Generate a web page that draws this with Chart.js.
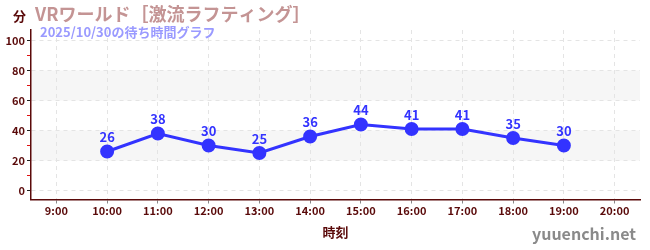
<!DOCTYPE html>
<html>
<head>
<meta charset="utf-8">
<script src="https://cdn.jsdelivr.net/npm/chart.js@4"></script>
<style>
  body { margin: 0; background: #fff; }
</style>
</head>
<body>
<canvas id="c" width="650" height="250"></canvas>
<script>
// データ
const title = "VRワールド［激流ラフティング］";
const subtitle = "2025/10/30の待ち時間グラフ";
const hours = [10, 11, 12, 13, 14, 15, 16, 17, 18, 19];
const waits = [26, 38, 30, 25, 36, 44, 41, 41, 35, 30];
const xTicks = [9, 10, 11, 12, 13, 14, 15, 16, 17, 18, 19, 20];
const yTicks = [0, 10, 20, 30, 40, 50, 60, 70, 80, 90, 100];
const bands = [[20, 40], [60, 80]];

const FONT = "'Noto Sans CJK JP', 'Noto Sans', sans-serif";
const MAROON = "#5a0a0a";
const BLUE = "#3333ff";

// 背景の帯
const bandPlugin = {
  id: "bands",
  beforeDraw(chart) {
    const { ctx, chartArea: a, scales: { y } } = chart;
    ctx.save();
    ctx.fillStyle = "#f6f6f6";
    bands.forEach(([lo, hi]) => {
      const top = y.getPixelForValue(hi);
      const bot = y.getPixelForValue(lo);
      ctx.fillRect(a.left, top, a.right - a.left, bot - top);
    });
    ctx.restore();
  }
};

// テキスト類と値ラベル
const textPlugin = {
  id: "texts",
  afterDraw(chart) {
    const { ctx, chartArea: a } = chart;
    ctx.save();
    ctx.textBaseline = "alphabetic";
    ctx.textAlign = "left";
    ctx.fillStyle = MAROON;
    ctx.font = "bold 13px " + FONT;
    ctx.fillText("分", 13, 21);
    ctx.fillStyle = "#c49494";
    ctx.font = "bold 18px " + FONT;
    ctx.fillText(title, 35, 21);
    ctx.fillStyle = "#9a9aff";
    ctx.font = "bold 13px " + FONT;
    ctx.fillText(subtitle, 40, 37);

    ctx.textAlign = "center";
    ctx.textBaseline = "middle";
    ctx.fillStyle = MAROON;
    ctx.font = "bold 13px " + FONT;
    ctx.fillText("時刻", (a.left + a.right) / 2, 232);

    ctx.textAlign = "right";
    ctx.fillStyle = "#8a8a8a";
    ctx.font = "bold 16px " + FONT;
    ctx.fillText("yuuenchi.net", 636, 234);

    // 値ラベル
    const meta = chart.getDatasetMeta(0);
    ctx.textAlign = "center";
    ctx.fillStyle = BLUE;
    ctx.font = "bold 13px " + FONT;
    meta.data.forEach((pt, i) => {
      ctx.fillText(String(waits[i]), pt.x, pt.y - 14);
    });
    ctx.restore();
  }
};

new Chart(document.getElementById("c"), {
  type: "line",
  data: {
    datasets: [{
      data: hours.map((h, i) => ({ x: h, y: waits[i] })),
      borderColor: BLUE,
      backgroundColor: BLUE,
      borderWidth: 3,
      pointRadius: 5.5,
      pointHoverRadius: 5.5,
      tension: 0,
      fill: false
    }]
  },
  options: {
    responsive: false,
    devicePixelRatio: 1,
    animation: false,
    layout: { padding: { top: 30, right: 10, left: 0, bottom: 0 } },
    plugins: {
      legend: { display: false },
      tooltip: { enabled: false }
    },
    scales: {
      x: {
        type: "linear",
        min: 8.5,
        max: 20.5,
        afterBuildTicks: (s) => { s.ticks = xTicks.map((v) => ({ value: v })); },
        afterFit: (s) => { s.height = 50.5; },
        ticks: {
          callback: (v) => v + ":00",
          color: MAROON,
          font: { family: FONT, size: 11, weight: "bold" },
          padding: 1,
          maxRotation: 0,
          autoSkip: false
        },
        grid: {
          color: "#e4e4e4",
          tickColor: "#888",
          tickLength: 4
        },
        border: { color: MAROON, width: 1.5, dash: [4, 4] }
      },
      y: {
        min: -6,
        max: 107,
        afterBuildTicks: (s) => { s.ticks = yTicks.map((v) => ({ value: v })); },
        afterFit: (s) => { s.width = 31; },
        ticks: {
          callback: (v) => (v % 20 === 0 ? v : ""),
          color: MAROON,
          font: { family: FONT, size: 11, weight: "bold" },
          padding: 2,
          autoSkip: false
        },
        grid: {
          color: (c) => (c.tick && c.tick.value % 20 === 0 ? "#e4e4e4" : "rgba(0,0,0,0)"),
          tickColor: (c) => (c.tick && c.tick.value % 20 === 0 ? "#222" : "#e01010"),
          tickLength: 4
        },
        border: { color: MAROON, width: 1.5, dash: [4, 4] }
      }
    }
  },
  plugins: [bandPlugin, textPlugin]
});
</script>
</body>
</html>
